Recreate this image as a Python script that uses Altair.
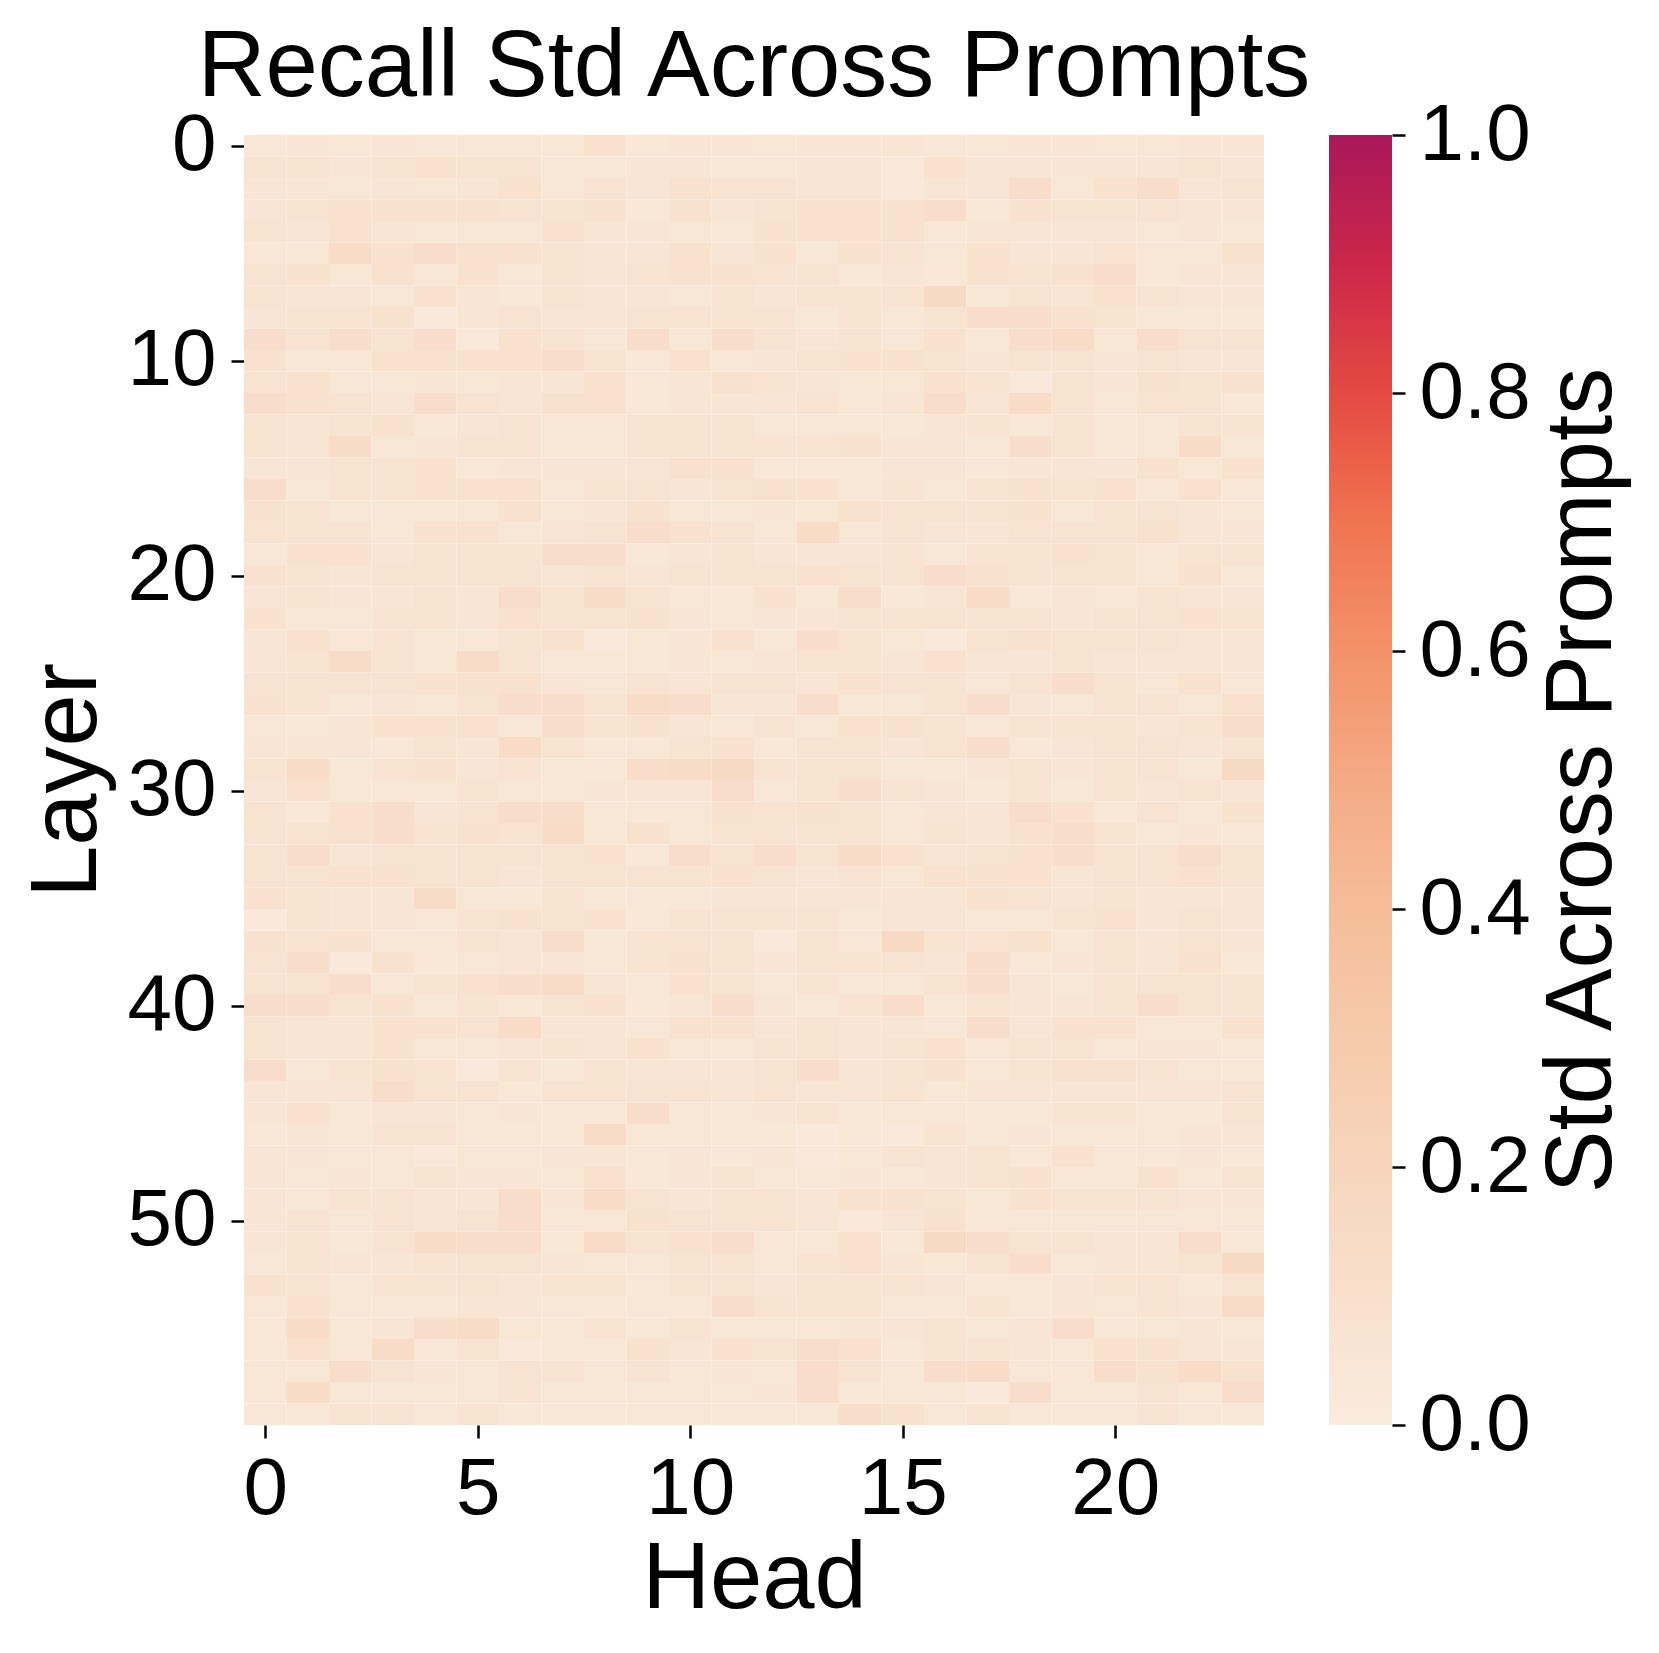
import altair as alt
import pandas as pd

# Heatmap intensity levels (one string per layer, 24 heads each).
# Std value = level * LEVEL_STEP
LEVEL_STEP = 0.019

ROWS_00_14 = [
    "2 3 2 3 2 2 2 2 5 2 3 3 2 3 3 3 2 2 3 3 2 2 3 3",
    "4 4 3 4 5 4 4 2 2 3 3 2 2 3 3 1 5 3 3 3 3 3 4 3",
    "3 3 2 3 2 3 5 2 4 3 5 4 4 3 3 1 3 3 6 2 5 6 3 4",
    "3 4 5 5 5 5 4 4 5 2 5 3 4 5 5 5 6 2 5 4 4 4 3 3",
    "4 3 5 3 2 2 2 5 3 3 2 2 5 5 5 5 2 3 3 3 3 2 3 2",
    "2 2 7 5 6 5 5 4 3 3 5 3 5 2 5 4 2 5 3 3 4 2 2 5",
    "4 5 2 5 2 5 2 4 3 4 5 5 4 4 2 3 2 5 4 5 6 2 3 3",
    "4 3 3 2 5 3 2 4 3 3 2 4 3 4 4 4 8 2 4 3 5 4 3 3",
    "3 4 4 5 1 3 4 3 3 4 4 4 4 2 4 2 4 6 6 5 4 2 2 2",
    "6 4 6 4 6 1 5 4 2 6 2 6 4 3 4 2 5 2 6 7 2 6 4 4",
    "5 2 2 5 5 5 5 6 4 2 5 2 3 4 5 5 4 3 4 4 3 4 3 3",
    "4 5 2 2 3 2 3 3 5 2 3 5 4 3 2 2 5 4 1 4 3 5 4 5",
    "6 5 4 3 6 4 3 5 5 2 3 3 3 4 2 3 6 3 7 4 2 4 4 2",
    "4 3 4 5 2 3 4 2 2 4 4 4 2 2 2 2 3 4 2 4 2 2 4 4",
    "4 3 7 2 3 4 4 2 2 4 4 4 4 4 5 3 3 2 6 4 2 2 7 2",
]
ROWS_15_29 = [
    "3 3 4 4 5 2 3 3 3 3 5 5 2 2 2 3 3 2 3 3 3 5 2 5",
    "6 2 4 4 5 5 5 2 4 4 3 4 5 5 2 4 2 4 5 4 5 2 5 2",
    "5 4 2 2 2 2 5 2 3 5 2 2 3 2 5 4 4 4 5 2 4 4 3 2",
    "4 4 4 2 5 5 2 3 4 6 5 4 2 7 2 4 3 3 4 4 4 5 3 3",
    "2 5 5 3 4 4 4 6 6 2 3 4 3 3 3 4 2 4 4 5 4 2 4 4",
    "5 4 3 4 4 4 4 3 4 3 4 4 4 5 4 4 6 5 4 4 4 2 5 2",
    "3 4 3 3 4 3 6 4 7 4 2 2 5 2 6 2 3 7 2 3 2 4 3 3",
    "5 2 2 4 4 3 5 4 4 5 3 2 3 3 4 4 4 4 4 3 4 4 5 4",
    "3 5 2 4 2 2 4 5 1 2 3 5 2 6 4 2 1 4 5 4 4 4 3 3",
    "3 4 7 4 2 7 4 2 2 2 3 2 3 4 4 3 5 3 3 4 3 3 3 3",
    "4 4 4 4 5 5 5 3 2 4 3 4 4 3 5 4 4 2 4 6 4 2 5 2",
    "5 4 2 3 2 4 6 6 4 7 6 3 3 6 2 2 4 6 3 2 4 4 2 5",
    "2 2 3 5 5 5 2 6 4 5 3 2 4 2 5 5 4 2 4 4 4 3 4 6",
    "3 3 3 2 4 3 7 4 2 2 4 5 2 4 4 3 4 6 2 3 4 4 3 4",
    "4 7 2 4 5 3 4 2 2 6 7 8 4 4 4 2 2 3 4 3 4 4 2 8",
]
ROWS_30_44 = [
    "3 5 2 2 2 4 2 2 3 3 3 6 2 4 6 4 3 2 4 2 4 3 4 3",
    "4 2 5 6 3 4 6 6 2 2 2 5 4 5 4 2 3 3 6 5 2 4 2 5",
    "4 4 5 6 4 5 4 7 2 5 2 4 4 4 4 2 4 3 5 6 4 2 3 2",
    "4 6 3 4 4 4 4 4 5 2 6 4 6 4 7 5 3 4 5 6 4 4 6 4",
    "4 4 5 5 4 4 3 4 4 4 4 5 4 3 4 2 5 5 5 3 4 4 5 4",
    "5 4 3 3 7 2 2 4 2 2 2 3 3 3 3 3 3 5 4 3 4 3 3 3",
    "1 4 3 3 2 4 5 4 5 2 4 4 4 4 2 3 3 2 2 4 5 3 4 3",
    "5 4 5 2 2 4 3 6 2 4 4 4 1 4 2 8 4 4 5 2 4 3 4 3",
    "4 6 1 5 2 2 3 3 2 4 5 4 3 4 4 4 3 6 2 3 4 3 5 2",
    "4 4 6 2 4 5 6 7 3 2 5 4 2 4 2 2 4 6 3 2 4 4 4 4",
    "6 6 4 5 2 4 2 4 5 2 3 6 3 2 4 6 2 4 3 3 4 6 4 4",
    "4 3 3 5 5 4 7 3 3 2 5 5 3 4 3 3 2 6 3 5 5 2 2 5",
    "4 3 3 5 2 2 3 4 3 5 2 2 4 4 3 4 5 2 4 4 2 3 3 2",
    "6 2 4 5 4 1 4 2 4 3 3 3 4 6 3 4 5 2 4 5 5 4 2 2",
    "3 3 3 6 4 4 2 4 4 4 4 3 4 3 3 4 2 3 3 3 3 3 3 4",
]
ROWS_45_59 = [
    "3 5 2 3 3 2 3 2 2 6 2 2 3 4 2 2 2 2 2 4 4 2 2 4",
    "2 3 2 4 4 2 2 2 7 2 2 2 2 1 2 1 4 2 3 2 2 2 3 3",
    "3 3 2 2 1 2 2 3 3 2 3 2 3 1 2 4 3 4 2 5 2 2 3 2",
    "3 2 3 2 4 3 3 2 5 2 3 4 2 2 3 2 3 4 5 2 2 5 2 4",
    "3 2 4 4 3 3 6 3 7 4 3 4 4 3 5 5 4 2 5 4 4 4 3 3",
    "3 4 2 4 3 4 6 2 2 5 4 4 4 3 1 3 5 2 2 2 2 2 2 2",
    "3 4 2 4 7 6 6 2 7 4 5 6 2 2 5 2 8 6 4 4 3 3 6 2",
    "2 4 3 3 4 4 4 3 2 2 4 4 2 4 5 3 2 4 6 2 3 3 4 8",
    "5 4 2 4 4 4 3 4 4 2 4 4 3 4 4 4 3 2 2 3 4 4 2 4",
    "2 5 2 2 2 3 3 2 2 2 2 6 4 4 4 2 2 4 2 3 2 4 3 7",
    "2 7 2 3 6 7 2 2 4 2 4 2 2 2 3 3 4 2 3 6 2 2 3 2",
    "2 5 2 7 2 4 1 2 2 5 3 5 4 6 5 2 4 4 3 2 5 5 3 3",
    "2 2 6 4 3 2 4 4 2 4 2 3 2 6 4 2 6 7 2 2 6 5 7 5",
    "2 7 2 2 2 2 4 2 2 2 2 2 3 6 2 2 2 1 6 2 2 4 2 6",
    "2 2 4 4 2 4 2 2 2 2 2 2 2 2 6 5 2 4 2 2 2 4 2 2",
]

TITLE = "Recall Std Across Prompts"
X_TICKS = [0, 5, 10, 15, 20]
Y_TICKS = [0, 10, 20, 30, 40, 50]
CB_TICKS = [0.0, 0.2, 0.4, 0.6, 0.8, 1.0]

# colour map stops (value -> colour)
CMAP_DOMAIN = [0.0, 0.1, 0.2, 0.3, 0.4, 0.5, 0.6, 0.7, 0.8, 0.9, 1.0]
CMAP_COLORS = ["#FAEBDD", "#F8E0CC", "#F7D5BC", "#F6CAAB", "#F5BD9A", "#F4AA84",
               "#F3926A", "#F07450", "#E44A42", "#CB2749", "#A8185A"]

FONT = "Liberation Sans"

rows = ROWS_00_14 + ROWS_15_29 + ROWS_30_44 + ROWS_45_59
records = []
for layer, line in enumerate(rows):
    for head, lvl in enumerate(line.split()):
        records.append({"layer": layer, "head": head, "std": int(lvl) * LEVEL_STEP})
df = pd.DataFrame(records)

W, H = 1020, 1290
CB_X0, CB_X1 = 1085, 1148

heat = (
    alt.Chart(df)
    .transform_calculate(
        x0="datum.head - 0.5", x1="datum.head + 0.5",
        y0="datum.layer - 0.5", y1="datum.layer + 0.5",
    )
    .mark_rect(strokeWidth=0)
    .encode(
        x=alt.X("x0:Q",
                scale=alt.Scale(domain=[-0.5, 23.5], nice=False, zero=False),
                axis=alt.Axis(values=X_TICKS, title="Head", labelPadding=12,
                              titlePadding=4, format="d")),
        x2="x1:Q",
        y=alt.Y("y0:Q",
                scale=alt.Scale(domain=[-0.5, 59.5], nice=False, zero=False, reverse=True),
                axis=alt.Axis(values=Y_TICKS, title="Layer", labelPadding=15,
                              titlePadding=12, format="d")),
        y2="y1:Q",
        color=alt.Color("std:Q",
                        scale=alt.Scale(domain=CMAP_DOMAIN, range=CMAP_COLORS),
                        legend=None),
    )
)

gradient = alt.LinearGradient(
    gradient="linear",
    stops=[alt.GradientStop(color=c, offset=o) for o, c in zip(CMAP_DOMAIN, CMAP_COLORS)],
    x1=0, x2=0, y1=1, y2=0,
)

cb_df = pd.DataFrame({"lo": [0.0], "hi": [1.0]})
colorbar = (
    alt.Chart(cb_df)
    .mark_rect(color=gradient, strokeWidth=0)
    .encode(
        x=alt.value(CB_X0),
        x2=alt.value(CB_X1),
        y=alt.Y("lo:Q",
                scale=alt.Scale(domain=[0, 1], nice=False, zero=False),
                axis=alt.Axis(orient="right", offset=CB_X1 - W, values=CB_TICKS,
                              format=".1f", title="Std Across Prompts",
                              labelPadding=14, titlePadding=6, titleAngle=270,
                              titleBaseline="top")),
        y2="hi:Q",
    )
)

title_df = pd.DataFrame({"t": [TITLE]})
title = (
    alt.Chart(title_df)
    .mark_text(font=FONT, fontSize=94, color="black", align="center",
               baseline="alphabetic")
    .encode(x=alt.value(W / 2), y=alt.value(-39), text="t:N")
)

chart = (
    alt.layer(heat, colorbar, title)
    .resolve_scale(y="independent", x="independent")
    .resolve_axis(y="independent")
    .properties(
        width=W, height=H,
        autosize=alt.AutoSizeParams(type="none"),
        padding={"left": 236, "top": 127, "right": 380, "bottom": 220},
    )
    .configure_view(stroke=None)
    .configure_axis(
        labelFont=FONT, titleFont=FONT, labelFontSize=80, titleFontSize=94,
        titleFontWeight="normal", labelColor="black", titleColor="black",
        tickColor="black", tickSize=13, tickWidth=2.5, domain=False, grid=False,
    )
)

chart.save("out.html", embed_options={"renderer": "svg", "actions": False})
